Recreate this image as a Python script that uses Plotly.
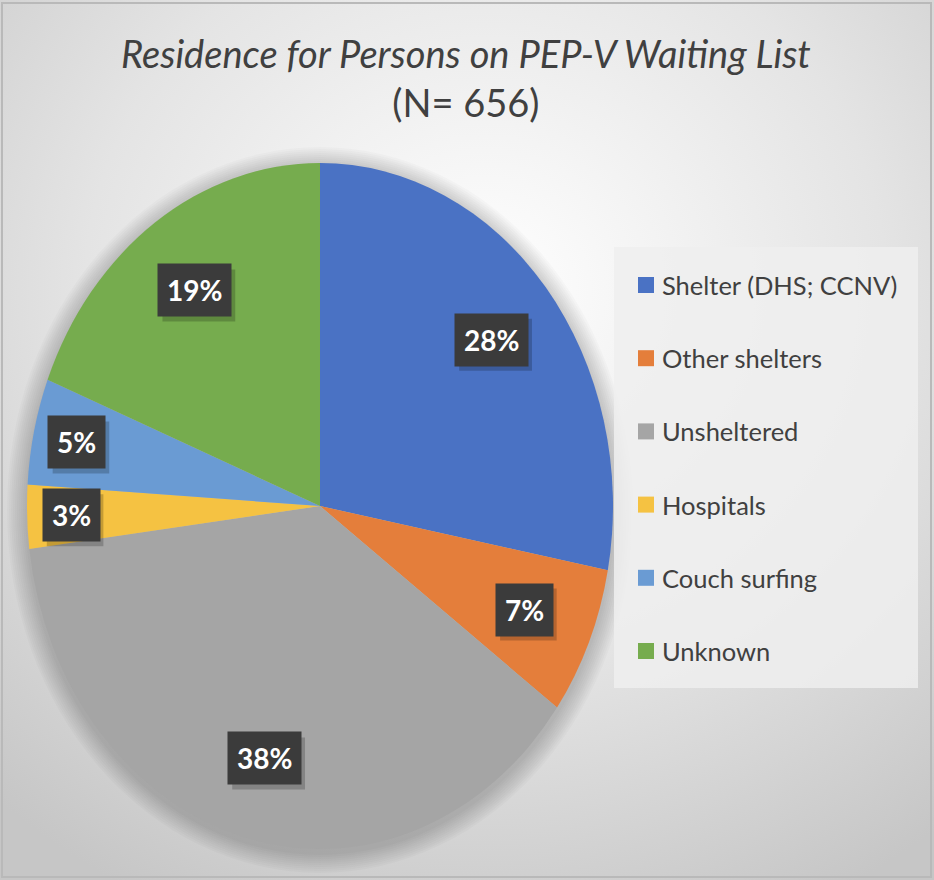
import base64, math
import plotly.graph_objects as go

# ---------------- data ----------------
labels = ["Shelter (DHS; CCNV)", "Other shelters", "Unsheltered", "Hospitals", "Couch surfing", "Unknown"]
values = [28, 7, 38, 3, 5, 19]
colors = ["#4A72C4", "#E47E3B", "#A5A5A5", "#F5C242", "#6A9BD3", "#76AC4E"]
title_line1 = "Residence for Persons on PEP-V Waiting List"
title_line2 = "(N= 656)"

# ---------------- geometry (pixels) ----------------
W, H = 934, 880
CX, CY = 320, 506          # pie centre
RX, RY = 293, 343          # pie horizontal / vertical radius (stretched pie)
STRETCH = RY / RX

def px2x(px): return px / W
def py2y(py): return 1 - py / H

fig = go.Figure()
fig.add_trace(go.Pie(
    labels=labels, values=values, sort=False, direction="clockwise", rotation=0,
    marker=dict(colors=colors, line=dict(width=0)),
    textinfo="none", showlegend=False,
    domain=dict(x=[px2x(CX - RX), px2x(CX + RX)], y=[py2y(CY + RX), py2y(CY - RX)]),
    hovertemplate="%{label}: %{percent}<extra></extra>",
))

# background gradient
svg = ("<svg xmlns='http://www.w3.org/2000/svg' width='934' height='880'>"
       "<defs><radialGradient id='g' cx='0.52' cy='0.33' r='0.78'>"
       "<stop offset='0' stop-color='#ffffff'/><stop offset='0.55' stop-color='#e4e4e4'/>"
       "<stop offset='1' stop-color='#c6c6c6'/></radialGradient></defs>"
       "<rect width='934' height='880' fill='url(#g)'/></svg>")
src = "data:image/svg+xml;base64," + base64.b64encode(svg.encode()).decode()

shapes = []
# soft shadow under the pie
for k in range(10):
    g = 20 - k * 2
    shapes.append(dict(type="circle", xref="paper", yref="paper", layer="below",
                       x0=px2x(CX - RX - g), x1=px2x(CX + RX + g),
                       y0=py2y(CY + RY + g + 4), y1=py2y(CY - RY - g + 4),
                       fillcolor="rgba(0,0,0,0.018)", line=dict(width=0)))
# legend box
LX0, LX1, LY0, LY1 = 614, 918, 247, 688
shapes.append(dict(type="rect", xref="paper", yref="paper", layer="below",
                   x0=px2x(LX0), x1=px2x(LX1), y0=py2y(LY1), y1=py2y(LY0),
                   fillcolor="rgba(238,238,238,0.85)", line=dict(width=0)))
# frame
shapes.append(dict(type="rect", xref="paper", yref="paper", layer="above",
                   x0=px2x(2), x1=px2x(931), y0=py2y(877), y1=py2y(3),
                   line=dict(color="#b9b9b9", width=2)))

annotations = []
# title
annotations.append(dict(text=f"<i>{title_line1}</i><br>{title_line2}", xref="paper", yref="paper",
                        x=px2x(466), y=py2y(77), xanchor="center", yanchor="middle",
                        showarrow=False, align="center",
                        font=dict(family="Lato", size=38, color="#404040")))
# legend entries
for i, (lab, col) in enumerate(zip(labels, colors)):
    yc = 285 + i * 73.2
    shapes.append(dict(type="rect", xref="paper", yref="paper",
                       x0=px2x(638), x1=px2x(654), y0=py2y(yc + 8), y1=py2y(yc - 8),
                       fillcolor=col, line=dict(width=0)))
    annotations.append(dict(text=lab, xref="paper", yref="paper", x=px2x(660), y=py2y(yc),
                            xanchor="left", yanchor="middle", showarrow=False,
                            font=dict(family="Lato", size=25.5, color="#404040")))

# data labels (dark boxes with a drop shadow)
total = sum(values)
cum = 0
for v in values:
    mid = (cum + v / 2) / total * 2 * math.pi
    cum += v
    f = 0.76 if v / total >= 0.06 else 0.85
    px = CX + f * RX * math.sin(mid)
    py = CY - f * RY * math.cos(mid)
    txt = f"{round(v / total * 100)}%"
    bw = (len(txt) - 1) * 16.2 + 22.4 + 18
    bh = 52
    shapes.append(dict(type="rect", xref="paper", yref="paper", layer="above",
                       x0=px2x(px - bw / 2 + 4), x1=px2x(px + bw / 2 + 4),
                       y0=py2y(py + bh / 2 + 5), y1=py2y(py - bh / 2 + 5),
                       fillcolor="rgba(0,0,0,0.2)", line=dict(width=0)))
    annotations.append(dict(text=txt, xref="paper", yref="paper", x=px2x(px), y=py2y(py),
                            xanchor="center", yanchor="middle", showarrow=False, borderpad=9,
                            font=dict(family="Lato", size=28, color="white", weight="bold"),
                            bgcolor="#3b3b3b"))

fig.update_layout(
    width=W, height=H, margin=dict(l=0, r=0, t=0, b=0),
    paper_bgcolor="#dedede", plot_bgcolor="rgba(0,0,0,0)",
    images=[dict(source=src, xref="paper", yref="paper", x=0, y=1, sizex=1, sizey=1,
                 sizing="stretch", layer="below", xanchor="left", yanchor="top")],
    shapes=shapes, annotations=annotations, showlegend=False,
)

post = """
var gd = document.getElementById('{plot_id}');
function stretchPie(){
  var layer = gd.querySelector('.pielayer');
  if(!layer) return;
  var cy = %f, s = %f;
  layer.setAttribute('transform', 'translate(0,' + (cy*(1-s)) + ') scale(1,' + s + ')');
}
stretchPie();
gd.on('plotly_afterplot', stretchPie);
""" % (CY, STRETCH)

fig.write_html("out.html", post_script=post)
